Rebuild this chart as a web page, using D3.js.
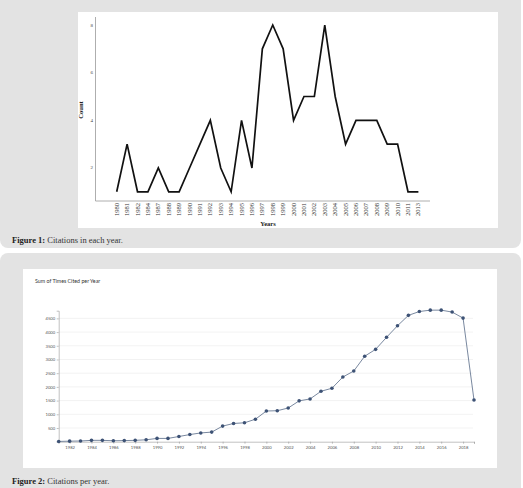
<!DOCTYPE html>
<html>
<head>
<meta charset="utf-8">
<script src="https://cdn.jsdelivr.net/npm/d3@7"></script>
<style>
  body { margin: 0; background: #fff; }
  svg { display: block; }
</style>
</head>
<body>
<svg id="page"></svg>
<script>
// Figure 1: citations in each year (count)
var years1 = ['1980','1981','1982','1984','1987','1988','1989','1990','1991','1992','1993','1994','1995','1996','1997','1998','1999','2000','2001','2002','2003','2004','2005','2006','2007','2008','2009','2010','2011','2013'];
var counts1 = [1,3,1,1,2,1,1,2,3,4,2,1,4,2,7,8,7,4,5,5,8,5,3,4,4,4,3,3,1,1];
var countTicks = [2,4,6,8];

// Figure 2: sum of times cited per year
var years2 = d3.range(1981, 2020);
var cited2 = [10,20,25,50,50,35,40,50,70,120,120,190,260,320,350,570,665,690,820,1120,1130,1230,1490,1560,1840,1950,2360,2580,3120,3370,3810,4230,4610,4750,4800,4800,4730,4510,1520];
var citedTicks = [500,1000,1500,2000,2500,3000,3500,4000,4500];
var yearTicks2 = d3.range(1982, 2019, 2);

var svg = d3.select('#page').attr('width', 523).attr('height', 488);

// panels
svg.append('rect').attr('x', 0).attr('y', -10).attr('width', 521).attr('height', 258)
    .attr('rx', 8).attr('fill', '#e3e3e3');
svg.append('rect').attr('x', 0).attr('y', 253).attr('width', 521).attr('height', 245)
    .attr('rx', 8).attr('fill', '#e3e3e3');

// ---------- figure 1 ----------
svg.append('rect').attr('x', 78).attr('y', 12).attr('width', 420).attr('height', 216).attr('fill', '#fff');

var x1 = d3.scalePoint().domain(years1).range([116.7, 418.4]);
var y1 = d3.scaleLinear().domain([0.614, 8.336]).range([201, 17]);

var g1 = svg.append('g');
g1.append('line').attr('x1', 95.5).attr('x2', 95.5).attr('y1', 17).attr('y2', 201)
    .attr('stroke', '#999').attr('stroke-width', 0.8);
g1.append('line').attr('x1', 95.5).attr('x2', 430).attr('y1', 201).attr('y2', 201)
    .attr('stroke', '#999').attr('stroke-width', 0.8);

g1.selectAll('text.yt').data(countTicks).join('text')
    .attr('class', 'yt')
    .attr('x', 93).attr('y', d => y1(d) + 1.5)
    .attr('text-anchor', 'end')
    .style('font', '5px "Liberation Serif"').attr('fill', '#444')
    .text(d => d);

g1.selectAll('text.xt').data(years1).join('text')
    .attr('class', 'xt')
    .attr('transform', d => `translate(${x1(d) + 2},203) rotate(-90)`)
    .attr('text-anchor', 'end')
    .style('font', '6.5px "Liberation Serif"').attr('fill', '#333')
    .text(d => d);

g1.append('path')
    .datum(counts1)
    .attr('fill', 'none').attr('stroke', '#111').attr('stroke-width', 1.7)
    .attr('stroke-linejoin', 'miter')
    .attr('d', d3.line().x((d, i) => x1(years1[i])).y(d => y1(d)));

g1.append('text').attr('x', 268).attr('y', 226).attr('text-anchor', 'middle')
    .style('font', 'bold 6.5px "Liberation Serif"').attr('fill', '#222').text('Years');
g1.append('text').attr('transform', 'translate(83,110) rotate(-90)').attr('text-anchor', 'middle')
    .style('font', 'bold 6.5px "Liberation Serif"').attr('fill', '#222').text('Count');

var cap1 = svg.append('text').attr('x', 12).attr('y', 243)
    .style('font', '8.5px "Liberation Serif"');
cap1.append('tspan').attr('font-weight', 'bold').attr('fill', '#222').text('Figure 1:');
cap1.append('tspan').attr('fill', '#333').text(' Citations in each year.');

// ---------- figure 2 ----------
svg.append('rect').attr('x', 23).attr('y', 269).attr('width', 474).attr('height', 199).attr('fill', '#fff');

var x2 = d3.scaleLinear().domain([1981, 2019]).range([58.7, 474]);
var y2 = d3.scaleLinear().domain([0, 4780]).range([441.7, 310.7]);

var g2 = svg.append('g');
g2.append('text').attr('x', 35).attr('y', 283)
    .style('font', '5.3px Lato').attr('fill', '#333').text('Sum of Times Cited per Year');

g2.selectAll('line.grid').data(citedTicks).join('line')
    .attr('class', 'grid')
    .attr('x1', 59).attr('x2', 473)
    .attr('y1', d => y2(d)).attr('y2', d => y2(d))
    .attr('stroke', '#ececec').attr('stroke-width', 0.7);

var yAxis2 = g2.append('g').attr('transform', 'translate(58.7,0)')
    .call(d3.axisLeft(y2).tickValues(citedTicks).tickSize(2).tickPadding(1.5).tickFormat(d3.format('d')));
var xAxis2 = g2.append('g').attr('transform', 'translate(0,441.7)')
    .call(d3.axisBottom(x2).tickValues(yearTicks2.concat([2019])).tickSize(2).tickPadding(2)
        .tickFormat(d => d === 2019 ? '' : d));
[yAxis2, xAxis2].forEach(a => {
  a.selectAll('path, line').attr('stroke', '#999').attr('stroke-width', 0.6);
  a.selectAll('text').style('font', '4.2px Lato').attr('fill', '#555');
});

g2.append('path')
    .datum(cited2)
    .attr('fill', 'none').attr('stroke', '#6a7b94').attr('stroke-width', 0.9)
    .attr('d', d3.line().x((d, i) => x2(years2[i])).y(d => y2(d)));

g2.selectAll('circle').data(cited2).join('circle')
    .attr('cx', (d, i) => x2(years2[i])).attr('cy', d => y2(d))
    .attr('r', 1.8).attr('fill', '#3d5275');

var cap2 = svg.append('text').attr('x', 12).attr('y', 484)
    .style('font', '8.5px "Liberation Serif"');
cap2.append('tspan').attr('font-weight', 'bold').attr('fill', '#222').text('Figure 2:');
cap2.append('tspan').attr('fill', '#333').text(' Citations per year.');
</script>
</body>
</html>
